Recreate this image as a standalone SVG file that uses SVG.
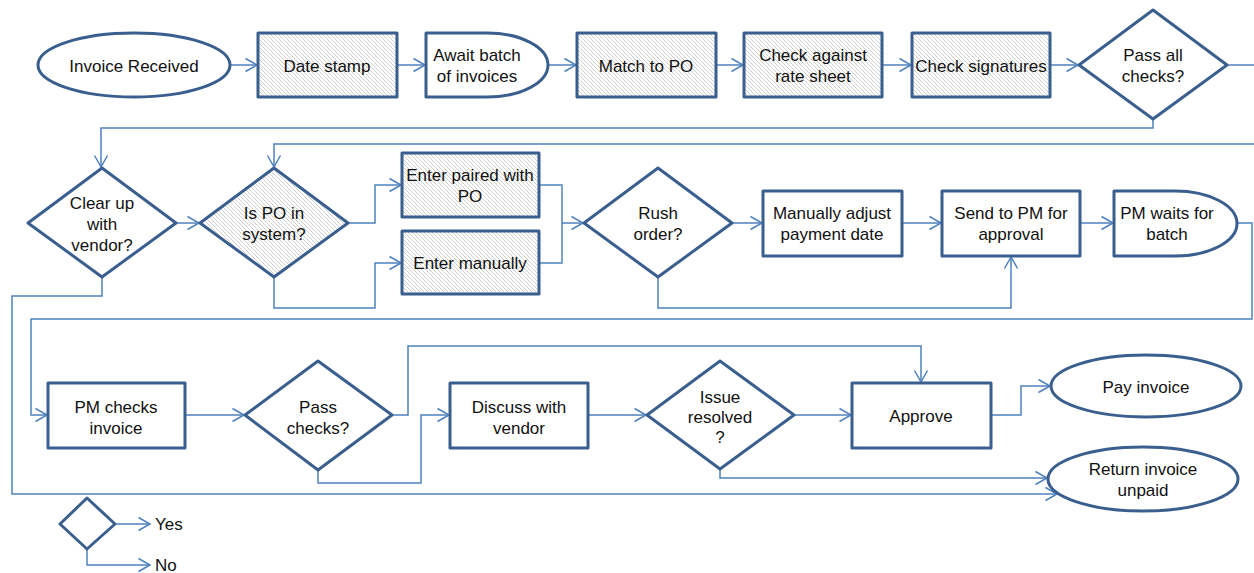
<svg xmlns="http://www.w3.org/2000/svg" width="1254" height="573" viewBox="0 0 1254 573">
<defs>
<pattern id="hatch" patternUnits="userSpaceOnUse" width="4" height="4">
<rect width="4" height="4" fill="#ffffff"/>
<path d="M-1,-1 L5,5 M-1,3 L1,5 M3,-1 L5,1" stroke="#c9c9c9" stroke-width="0.9"/>
</pattern>
<marker id="arr" markerUnits="userSpaceOnUse" markerWidth="16" markerHeight="16" viewBox="-13 -8 16 16" refX="0" refY="0" orient="auto">
<path d="M-11.5,-6.5 L0,0 L-11.5,6.5" fill="none" stroke="#4f81bd" stroke-width="1.5"/>
</marker>
<style>
.n{fill:#ffffff;stroke:#3a5f8e;stroke-width:3;stroke-linejoin:round}
.h{fill:url(#hatch)}
.c{fill:none;stroke:#4f81bd;stroke-width:1.5}
.a{marker-end:url(#arr)}
text{font-family:"Liberation Sans",Arial,sans-serif;font-size:17px;fill:#111111;text-anchor:middle}
.l{text-anchor:start}
</style>
</defs>
<rect width="1254" height="573" fill="#ffffff"/>
<g id="connectors">
<path class="c a" d="M229,65 H257"/>
<path class="c a" d="M397,65 H425"/>
<path class="c a" d="M548,65 H576"/>
<path class="c a" d="M716,65 H743"/>
<path class="c a" d="M882,65 H911"/>
<path class="c a" d="M1050,65 H1078"/>
<path class="c" d="M1227,65 H1254"/>
<path class="c a" d="M1153,119 V128 H101 V167"/>
<path class="c a" d="M1254,144 H274 V167"/>
<path class="c a" d="M176,223 H199"/>
<path class="c a" d="M348,223 H375 V185 H401"/>
<path class="c a" d="M274,277 V308 H375 V263 H401"/>
<path class="c" d="M539,185 H562 V263 H539"/>
<path class="c a" d="M562,223 H583"/>
<path class="c a" d="M732,223 H762"/>
<path class="c a" d="M902,223 H941"/>
<path class="c a" d="M1080,223 H1113"/>
<path class="c a" d="M658,277 V308 H1011 V257"/>
<path class="c a" d="M1237,223 H1252 V319 H31 V415 H47"/>
<path class="c a" d="M102,277 V296 H12 V494 H1057"/>
<path class="c a" d="M185,415 H244"/>
<path class="c a" d="M392,415 H408 V346 H921 V382"/>
<path class="c a" d="M318,470 V483 H421 V415 H449"/>
<path class="c a" d="M588,415 H646"/>
<path class="c a" d="M794,415 H851"/>
<path class="c a" d="M991,415 H1021 V386 H1050"/>
<path class="c a" d="M720,469 V478 H1047"/>
<path class="c a" d="M115,524 H150"/>
<path class="c a" d="M87,549 V565 H150"/>
</g>
<g id="n-invoice-received"><ellipse class="n" cx="134" cy="65" rx="96" ry="32"/><text x="134" y="72">Invoice Received</text></g>
<g id="n-date-stamp"><rect class="n h" x="258" y="33" width="139" height="64"/><text x="327" y="72">Date stamp</text></g>
<g id="n-await-batch"><path class="n" d="M426,33 H487 A61,32 0 0 1 487,97 H426 Z"/><text x="477" y="61">Await batch</text><text x="477" y="82">of invoices</text></g>
<g id="n-match-po"><rect class="n h" x="577" y="33" width="139" height="64"/><text x="646" y="72">Match to PO</text></g>
<g id="n-rate-sheet"><rect class="n h" x="744" y="33" width="138" height="64"/><text x="813" y="61">Check against</text><text x="813" y="82">rate sheet</text></g>
<g id="n-signatures"><rect class="n h" x="912" y="33" width="138" height="64"/><text x="981" y="72">Check signatures</text></g>
<g id="n-pass-all"><path class="n" d="M1153,10 L1227,65 L1153,119 L1079,65 Z"/><text x="1153" y="61">Pass all</text><text x="1153" y="82">checks?</text></g>
<g id="n-clear-up"><path class="n" d="M102,168 L176,223 L102,277 L28,223 Z"/><text x="102" y="209">Clear up</text><text x="102" y="230">with</text><text x="102" y="251">vendor?</text></g>
<g id="n-po-system"><path class="n h" d="M274,168 L348,223 L274,277 L200,223 Z"/><text x="274" y="219">Is PO in</text><text x="274" y="240">system?</text></g>
<g id="n-enter-paired"><rect class="n h" x="402" y="153" width="137" height="64"/><text x="470" y="181">Enter paired with</text><text x="470" y="202">PO</text></g>
<g id="n-enter-manually"><rect class="n h" x="402" y="231" width="137" height="63"/><text x="470" y="269">Enter manually</text></g>
<g id="n-rush"><path class="n" d="M658,168 L732,223 L658,277 L584,223 Z"/><text x="658" y="219">Rush</text><text x="658" y="240">order?</text></g>
<g id="n-adjust-date"><rect class="n" x="763" y="191" width="139" height="65"/><text x="832" y="219">Manually adjust</text><text x="832" y="240">payment date</text></g>
<g id="n-send-pm"><rect class="n" x="942" y="191" width="138" height="65"/><text x="1011" y="219">Send to PM for</text><text x="1011" y="240">approval</text></g>
<g id="n-pm-waits"><path class="n" d="M1114,191 H1175 A62,32.5 0 0 1 1175,256 H1114 Z"/><text x="1167" y="219">PM waits for</text><text x="1167" y="240">batch</text></g>
<g id="n-pm-checks"><rect class="n" x="48" y="383" width="137" height="65"/><text x="116" y="413">PM checks</text><text x="116" y="434">invoice</text></g>
<g id="n-pass-checks"><path class="n" d="M318,361 L392,415 L318,470 L245,415 Z"/><text x="318" y="413">Pass</text><text x="318" y="434">checks?</text></g>
<g id="n-discuss"><rect class="n" x="450" y="383" width="138" height="65"/><text x="519" y="413">Discuss with</text><text x="519" y="434">vendor</text></g>
<g id="n-issue"><path class="n" d="M720,361 L794,415 L720,469 L647,415 Z"/><text x="720" y="403">Issue</text><text x="720" y="423">resolved</text><text x="720" y="443">?</text></g>
<g id="n-approve"><rect class="n" x="852" y="383" width="139" height="65"/><text x="921" y="422">Approve</text></g>
<g id="n-pay"><ellipse class="n" cx="1146" cy="386" rx="95" ry="31"/><text x="1146" y="393">Pay invoice</text></g>
<g id="n-return"><ellipse class="n" cx="1143" cy="479" rx="95" ry="32"/><text x="1143" y="475">Return invoice</text><text x="1143" y="496">unpaid</text></g>
<g id="legend"><path class="n" d="M87,498 L115,524 L87,549 L60,524 Z"/><text class="l" x="155" y="530">Yes</text><text class="l" x="155" y="571">No</text></g>
</svg>
